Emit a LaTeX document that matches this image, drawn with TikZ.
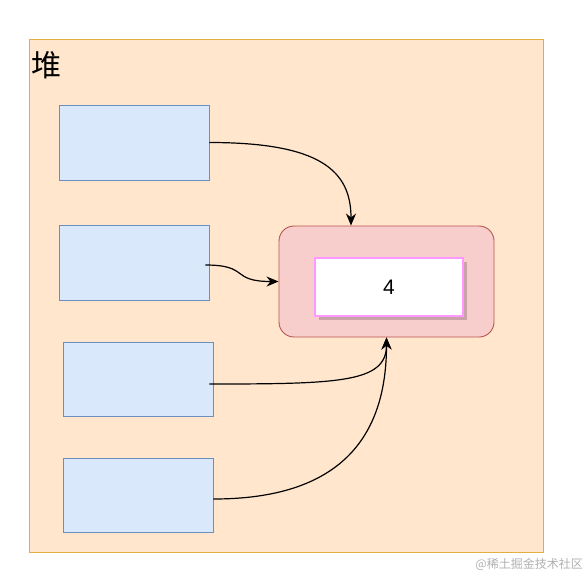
\documentclass[tikz,border=0pt]{standalone}
\usepackage{fontspec}
\setmainfont{Liberation Sans}
\newfontfamily\cjk{Noto Sans CJK SC}
\usetikzlibrary{arrows.meta,calc}
\definecolor{heapfill}{HTML}{FFE6CC}
\definecolor{heapdraw}{HTML}{E0B040}
\definecolor{boxfill}{HTML}{DAE8FC}
\definecolor{boxdraw}{HTML}{6C8EBF}
\definecolor{redfill}{HTML}{F8CECC}
\definecolor{reddraw}{HTML}{B85450}
\definecolor{pinkdraw}{HTML}{FF99FF}
\definecolor{shadowc}{HTML}{C9A3A8}
\definecolor{wmark}{HTML}{B0B0B0}
\tikzset{
  refbox/.style={draw=boxdraw, fill=boxfill, line width=0.9pt, minimum width=150pt, minimum height=75pt, inner sep=0pt},
  conn/.style={line width=1.2pt, -{Stealth[length=12pt,width=10pt]}},
}
\begin{document}
\begin{tikzpicture}[x=1pt,y=-1pt]
\useasboundingbox (0,0) rectangle (588,576);
\node[draw=heapdraw, fill=heapfill, line width=1pt, minimum width=514pt, minimum height=513pt, inner sep=0pt] (heap) at (286,295.5) {};
\node[anchor=west, inner sep=0pt, font=\cjk\fontsize{30}{32}\selectfont] (heaplabel) at (31,65) {堆};
\node[refbox] (b1) at (134,142.5) {};
\node[refbox] (b2) at (134,262.5) {};
\node[refbox, minimum height=74pt] (b3) at (138,379) {};
\node[refbox, minimum height=74pt] (b4) at (138,495) {};
\node[draw=reddraw, fill=redfill, line width=0.9pt, rounded corners=15pt, minimum width=215pt, minimum height=111pt, inner sep=0pt] (obj) at (386.5,281.5) {};
\fill[shadowc] (319,262) rectangle (467,320);
\node[draw=pinkdraw, fill=white, line width=2pt, minimum width=148pt, minimum height=58pt, inner sep=0pt, font=\fontsize{21}{24}\selectfont] (val) at (389,287) {4};
\draw[conn] (b1.east) .. controls (320,142.5) and ([xshift=-35.5pt,yshift=55pt]obj.north) .. ([xshift=-35.5pt]obj.north);
\draw[conn] ($(b2.east)+(-4,2.5)$) .. controls (250,265) and (230,281.5) .. (obj.west);
\draw[conn] ($(b3.east)+(-4,5)$) .. controls (340,384) and ([yshift=-45pt]obj.south) .. (obj.south);
\draw[conn] ($(b4.east)+(0,4)$) .. controls (340,499) and ([yshift=-100pt]obj.south) .. (obj.south);
\node[anchor=east, inner sep=0pt, text=wmark, font=\cjk\fontsize{12}{14}\selectfont] (wm) at (583,564) {@稀土掘金技术社区};
\end{tikzpicture}
\end{document}
